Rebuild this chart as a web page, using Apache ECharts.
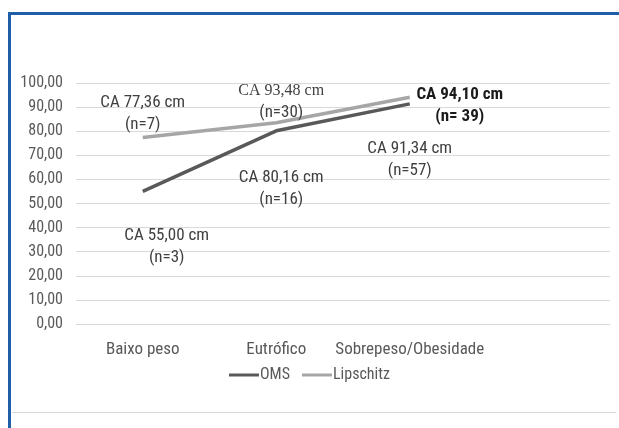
<!DOCTYPE html>
<html>
<head>
<meta charset="utf-8">
<script src="https://cdn.jsdelivr.net/npm/echarts@6/dist/echarts.min.js"></script>
<style>
  html, body { margin: 0; padding: 0; background: #fff; }
  #chart { width: 619px; height: 428px; }
</style>
</head>
<body>
<div id="chart"></div>
<script>
// categorias (a 4a fica vazia, como no original)
const categories = ['Baixo peso', 'Eutrófico', 'Sobrepeso/Obesidade', ''];
const omsValues = [55.00, 80.16, 91.34];
const lipschitzValues = [77.36, 83.48, 94.10];
const omsLabels = ['CA 55,00 cm\n(n=3)', 'CA 80,16 cm\n(n=16)', 'CA 91,34 cm\n(n=57)'];
const lipschitzLabels = ['CA 77,36 cm\n(n=7)', '{s|CA 93,48 cm}\n(n=30)', 'CA 94,10 cm\n(n= 39)'];
const yTicks = [0, 10, 20, 30, 40, 50, 60, 70, 80, 90, 100];

const font = '"Liberation Sans Narrow", "Roboto Condensed", "Liberation Sans", sans-serif';

// deslocamento dos rótulos em relação ao ponto
const omsOffsets = [[24, 55], [5, 58], [0, 56]];
const lipOffsets = [[0, -24], [5, -21], [50, 9]];

function items(values, labels, offsets, extra) {
  return values.map((v, i) => ({
    value: v,
    label: Object.assign({ formatter: labels[i], offset: offsets[i] }, (extra && extra[i]) || {})
  }));
}

const chart = echarts.init(document.getElementById('chart'), null, { renderer: 'canvas' });

const baseLabel = {
  show: true,
  position: 'inside',
  align: 'center',
  verticalAlign: 'middle',
  fontFamily: font,
  fontSize: 17,
  lineHeight: 22,
  color: '#404040',
  rich: {
    s: { fontFamily: '"Liberation Serif", serif', fontSize: 16, color: '#404040', lineHeight: 22 }
  }
};

chart.setOption({
  animation: false,
  backgroundColor: '#fff',
  grid: { left: 76, right: 9, top: 83, bottom: 104, containLabel: false },
  graphic: [
    { type: 'rect', shape: { x: 8, y: 12, width: 611, height: 3 }, style: { fill: '#1f5ea8' } },
    { type: 'rect', shape: { x: 8, y: 12, width: 3, height: 416 }, style: { fill: '#1f5ea8' } },
    { type: 'rect', shape: { x: 12, y: 412, width: 604, height: 1 }, style: { fill: '#d9d9d9' } }
  ],
  legend: {
    bottom: 40,
    left: 'center',
    itemWidth: 30,
    itemHeight: 3,
    itemGap: 12,
    icon: 'rect',
    textStyle: { fontFamily: font, fontSize: 16, color: '#595959', padding: [0, 0, 0, -4] },
    data: ['OMS', 'Lipschitz']
  },
  xAxis: {
    type: 'category',
    data: categories,
    boundaryGap: true,
    axisLine: { show: true, lineStyle: { color: '#d9d9d9' } },
    axisTick: { show: false },
    axisLabel: { fontFamily: font, fontSize: 17, color: '#595959', margin: 17, interval: 0 }
  },
  yAxis: {
    type: 'value',
    min: yTicks[0],
    max: yTicks[yTicks.length - 1],
    interval: 10,
    axisLine: { show: false },
    axisTick: { show: false },
    splitLine: { lineStyle: { color: '#d9d9d9', width: 1 } },
    axisLabel: {
      fontFamily: font, fontSize: 16, color: '#595959', margin: 13,
      formatter: v => v.toFixed(2).replace('.', ',')
    }
  },
  series: [
    {
      name: 'OMS',
      type: 'line',
      data: items(omsValues, omsLabels, omsOffsets),
      symbol: 'circle',
      symbolSize: 0.1,
      showSymbol: true,
      color: '#595959',
      lineStyle: { color: '#595959', width: 3.5 },
      label: baseLabel,
      z: 3
    },
    {
      name: 'Lipschitz',
      type: 'line',
      data: items(lipschitzValues, lipschitzLabels, lipOffsets,
        [null, null, { color: '#1a1a1a', fontWeight: 'bold' }]),
      symbol: 'circle',
      symbolSize: 0.1,
      showSymbol: true,
      color: '#a6a6a6',
      lineStyle: { color: '#a6a6a6', width: 3.5 },
      label: baseLabel,
      z: 2
    }
  ]
});
</script>
</body>
</html>
